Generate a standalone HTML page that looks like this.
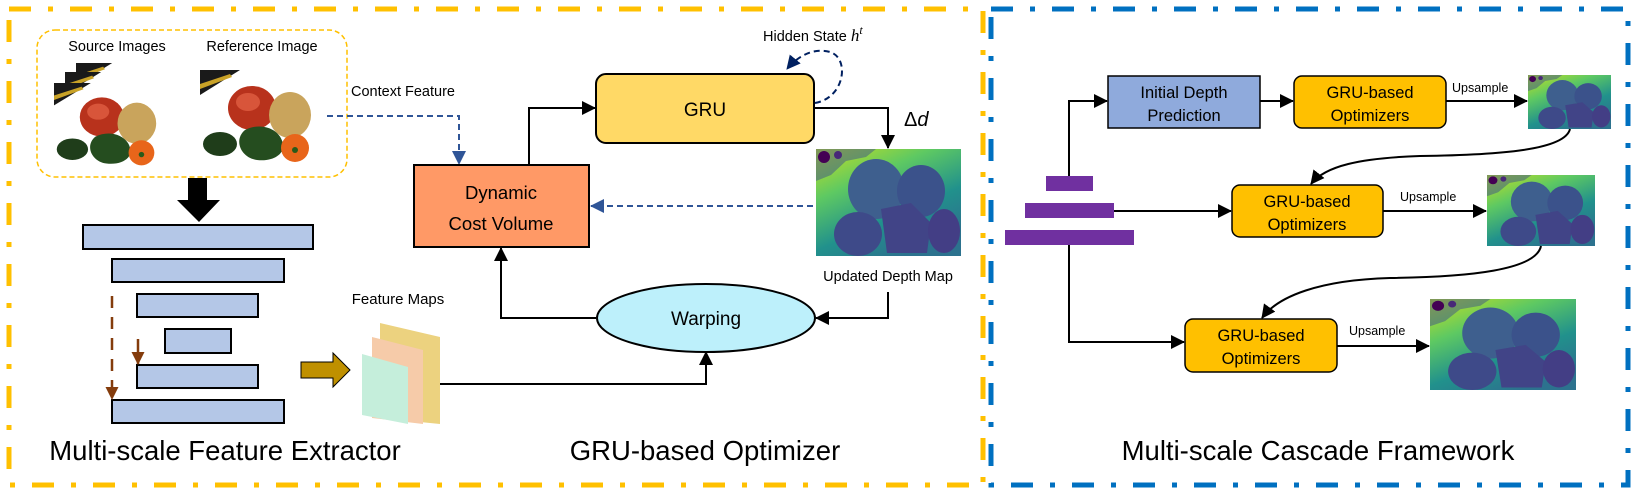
<!DOCTYPE html>
<html><head><meta charset="utf-8"><style>
html,body{margin:0;padding:0;background:#fff}
svg{display:block}
text{font-family:"Liberation Sans",sans-serif;fill:#000}
</style></head><body>
<svg width="1633" height="491" viewBox="0 0 1633 491" xmlns="http://www.w3.org/2000/svg">
<defs>
<linearGradient id="dg" x1="0" y1="0" x2="0.6" y2="1">
<stop offset="0" stop-color="#c8e020"/><stop offset="0.35" stop-color="#5ec962"/><stop offset="0.7" stop-color="#21918c"/><stop offset="1" stop-color="#2c728e"/>
</linearGradient>
<symbol id="depth" viewBox="0 0 145 107" preserveAspectRatio="none">
<rect width="145" height="107" fill="url(#dg)"/>
<path d="M0 0h60l-10 8-20 4-15 14-15 6z" fill="#3b528b" opacity=".5"/>
<circle cx="8" cy="8" r="6" fill="#440154"/><circle cx="22" cy="6" r="4" fill="#482878"/>
<ellipse cx="60" cy="40" rx="28" ry="30" fill="#3e5f8e"/>
<ellipse cx="105" cy="42" rx="24" ry="26" fill="#3b528b"/>
<path d="M65 60l30-6 20 20-4 30h-40z" fill="#414487"/>
<ellipse cx="42" cy="85" rx="24" ry="22" fill="#3e4a89"/>
<ellipse cx="128" cy="82" rx="16" ry="22" fill="#433e85"/>
</symbol>
<symbol id="veg" viewBox="0 0 126 95" preserveAspectRatio="none">
<rect width="126" height="95" fill="#fff"/>
<path d="M0 0h40l-40 25z" fill="#1a1a1a"/>
<path d="M0 14l30-10 2 3-32 12z" fill="#c9a227"/>
<ellipse cx="52" cy="38" rx="24" ry="22" fill="#b8321c"/>
<ellipse cx="48" cy="32" rx="12" ry="9" fill="#d8553a"/>
<ellipse cx="90" cy="45" rx="21" ry="23" fill="#c9a45c"/>
<ellipse cx="20" cy="74" rx="17" ry="12" fill="#1f3d1a"/>
<path d="M45 60c15-8 35-2 38 14 2 10-10 18-26 16-16-2-24-20-12-30z" fill="#254d1f"/>
<ellipse cx="95" cy="78" rx="14" ry="14" fill="#e8651a"/>
<circle cx="95" cy="80" r="3" fill="#2a5a1a"/>
</symbol>
<marker id="ab" markerWidth="14" markerHeight="14" refX="13" refY="7" orient="auto" markerUnits="userSpaceOnUse"><path d="M0 0L14 7L0 14z" fill="#000"/></marker>
<marker id="abl" markerWidth="14" markerHeight="14" refX="13" refY="7" orient="auto" markerUnits="userSpaceOnUse"><path d="M0 0L14 7L0 14z" fill="#2f5597"/></marker>
<marker id="anv" markerWidth="14" markerHeight="14" refX="13" refY="7" orient="auto" markerUnits="userSpaceOnUse"><path d="M0 0L14 7L0 14z" fill="#002060"/></marker>
<marker id="abr" markerWidth="13" markerHeight="13" refX="12" refY="6.5" orient="auto" markerUnits="userSpaceOnUse"><path d="M0 0L13 6.5L0 13z" fill="#843c0c"/></marker>
</defs>

<rect x="9" y="9" width="974" height="476" fill="none" stroke="#FFC000" stroke-width="5" stroke-dasharray="22 17 5 17"/>
<rect x="991" y="9" width="637" height="476" fill="none" stroke="#0070C0" stroke-width="5" stroke-dasharray="22 17 5 17"/>

<rect x="37" y="30" width="310" height="147" rx="18" fill="none" stroke="#FFC000" stroke-width="1.5" stroke-dasharray="5 3"/>
<text x="117" y="51" font-size="14.5" text-anchor="middle">Source Images</text>
<text x="262" y="51" font-size="14.5" text-anchor="middle">Reference Image</text>
<use href="#veg" x="76" y="63" width="114" height="85"/>
<use href="#veg" x="65" y="72" width="114" height="85"/>
<use href="#veg" x="54" y="83" width="116" height="85"/>
<use href="#veg" x="200" y="70" width="126" height="95"/>

<text x="351" y="96" font-size="14.5">Context Feature</text>
<path d="M327 116H459V164" fill="none" stroke="#2f5597" stroke-width="2" stroke-dasharray="6 4" marker-end="url(#abl)"/>

<path d="M188 178h19v22h13l-21 22-22-22h11z" fill="#000"/>

<g fill="#b4c7e7" stroke="#000" stroke-width="2">
<rect x="83" y="225" width="230" height="24"/>
<rect x="112" y="259" width="172" height="23"/>
<rect x="137" y="294" width="121" height="23"/>
<rect x="165" y="329" width="66" height="24"/>
<rect x="137" y="365" width="121" height="23"/>
<rect x="112" y="400" width="172" height="23"/>
</g>
<path d="M112 296V399" stroke="#843c0c" stroke-width="2.5" stroke-dasharray="12 9" marker-end="url(#abr)"/>
<path d="M138 339V364" stroke="#843c0c" stroke-width="2.5" marker-end="url(#abr)"/>

<path d="M301 362h32v-9l17 17-17 17v-9h-32z" fill="#bf9000" stroke="#000" stroke-width="1"/>

<text x="398" y="304" font-size="15" text-anchor="middle">Feature Maps</text>
<path d="M380 323L440 337V424L380 418z" fill="#ecd27f"/>
<path d="M372 337L423 350V424L372 418z" fill="#f6cba9"/>
<path d="M362 354L408 367V424L362 415z" fill="#c5eedb"/>

<text x="225" y="460" font-size="27.5" text-anchor="middle">Multi-scale Feature Extractor</text>

<rect x="414" y="165" width="175" height="82" fill="#ff9966" stroke="#000" stroke-width="2"/>
<text x="501" y="199" font-size="18.5" text-anchor="middle">Dynamic</text>
<text x="501" y="230" font-size="18.5" text-anchor="middle">Cost Volume</text>

<rect x="596" y="74" width="218" height="69" rx="10" fill="#ffd966" stroke="#000" stroke-width="2"/>
<text x="705" y="116" font-size="19" text-anchor="middle">GRU</text>

<ellipse cx="706" cy="318" rx="109" ry="34" fill="#bdf0fb" stroke="#000" stroke-width="2"/>
<text x="706" y="325" font-size="19" text-anchor="middle">Warping</text>

<use href="#depth" x="816" y="149" width="145" height="107"/>

<text x="763" y="41" font-size="14.5">Hidden State <tspan font-family="Liberation Serif" font-style="italic" font-size="17">h</tspan><tspan font-family="Liberation Serif" font-style="italic" font-size="12" dy="-7">t</tspan></text>
<path d="M815 103C845 98 850 58 830 52C812 47 796 58 787 69" fill="none" stroke="#002060" stroke-width="2" stroke-dasharray="6 4" marker-end="url(#anv)"/>
<text x="904" y="126" font-size="20" font-family="Liberation Serif"><tspan>Δ</tspan><tspan font-style="italic">d</tspan></text>

<g fill="none" stroke="#000" stroke-width="2">
<path d="M529 165V108H595" marker-end="url(#ab)"/>
<path d="M814 108H888V148" marker-end="url(#ab)"/>
<path d="M888 292V318H816" marker-end="url(#ab)"/>
<path d="M596 318H501V248" marker-end="url(#ab)"/>
<path d="M440 384H706V352" marker-end="url(#ab)"/>
</g>
<path d="M813 206H591" fill="none" stroke="#2f5597" stroke-width="2" stroke-dasharray="6 4" marker-end="url(#abl)"/>
<text x="888" y="281" font-size="14.5" text-anchor="middle">Updated Depth Map</text>
<text x="705" y="460" font-size="27.5" text-anchor="middle">GRU-based Optimizer</text>

<g fill="#7030a0">
<rect x="1046" y="176" width="47" height="15"/>
<rect x="1025" y="203" width="89" height="15"/>
<rect x="1005" y="230" width="129" height="15"/>
</g>
<rect x="1108" y="76" width="152" height="52" fill="#8faadc" stroke="#000" stroke-width="1.5"/>
<text x="1184" y="98" font-size="16.5" text-anchor="middle">Initial Depth</text>
<text x="1184" y="121" font-size="16.5" text-anchor="middle">Prediction</text>

<g fill="#ffc000" stroke="#000" stroke-width="1.5">
<rect x="1294" y="76" width="152" height="52" rx="8"/>
<rect x="1232" y="185" width="151" height="52" rx="8"/>
<rect x="1185" y="319" width="152" height="53" rx="8"/>
</g>
<g font-size="16.5" text-anchor="middle">
<text x="1370" y="98">GRU-based</text><text x="1370" y="121">Optimizers</text>
<text x="1307" y="207">GRU-based</text><text x="1307" y="230">Optimizers</text>
<text x="1261" y="341">GRU-based</text><text x="1261" y="364">Optimizers</text>
</g>
<use href="#depth" x="1528" y="75" width="83" height="54"/>
<use href="#depth" x="1487" y="175" width="108" height="71"/>
<use href="#depth" x="1430" y="299" width="146" height="91"/>

<g font-size="12.5">
<text x="1452" y="92">Upsample</text>
<text x="1400" y="201">Upsample</text>
<text x="1349" y="335">Upsample</text>
</g>
<g fill="none" stroke="#000" stroke-width="2">
<path d="M1069 176V101H1107" marker-end="url(#ab)"/>
<path d="M1260 101H1293" marker-end="url(#ab)"/>
<path d="M1114 211H1231" marker-end="url(#ab)"/>
<path d="M1069 245V342H1184" marker-end="url(#ab)"/>
<path d="M1446 101H1527" marker-end="url(#ab)"/>
<path d="M1383 211H1486" marker-end="url(#ab)"/>
<path d="M1337 346H1429" marker-end="url(#ab)"/>
<path d="M1570 129C1565 150 1500 155 1420 156C1360 158 1325 166 1311 184" marker-end="url(#ab)"/>
<path d="M1541 246C1536 270 1470 277 1390 278C1320 280 1278 296 1262 318" marker-end="url(#ab)"/>
</g>
<text x="1318" y="460" font-size="27.5" text-anchor="middle">Multi-scale Cascade Framework</text>
</svg>
</body></html>
